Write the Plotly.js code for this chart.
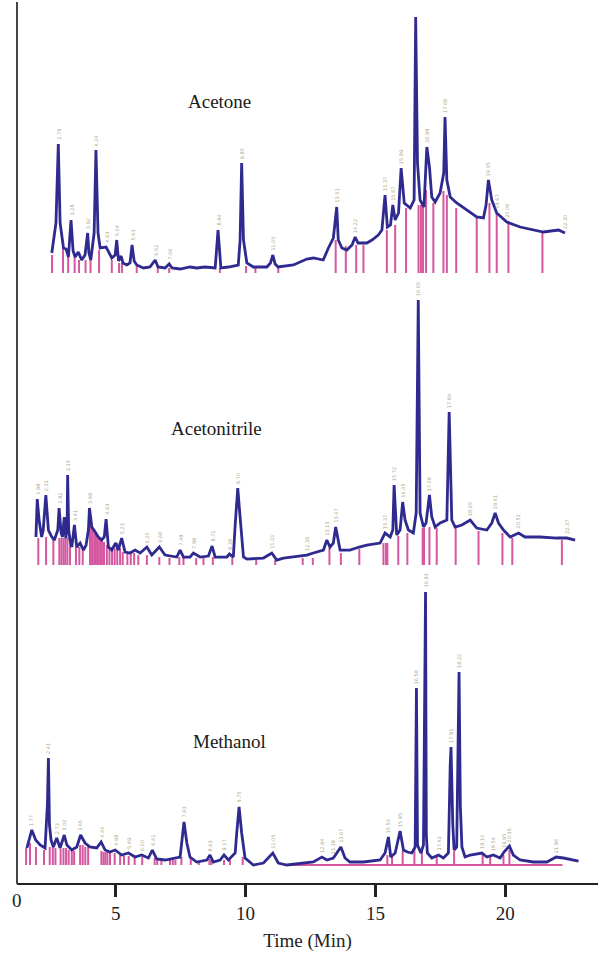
<!DOCTYPE html>
<html><head><meta charset="utf-8">
<script src="https://cdn.plot.ly/plotly-3.0.1.min.js"></script>
<style>html,body{margin:0;padding:0;background:#fff}#chart{width:598px;height:954px}</style>
</head><body><div id="chart"></div>
<script>
// ---------- Data (retention time in min, relative intensity) ----------
const xTickVals = [5, 10, 15, 20];
const xTickText = ['5', '10', '15', '20'];
const panelNames = ['Acetone', 'Acetonitrile', 'Methanol'];

const acetoneTime = [2.54,2.70,2.79,2.86,2.99,3.09,3.18,3.28,3.36,3.44,3.56,3.69,3.82,3.92,3.97,4.04,4.17,4.24,4.32,4.40,4.63,4.85,4.98,5.04,5.11,5.21,5.28,5.43,5.55,5.63,5.71,5.81,6.07,6.32,6.52,6.63,6.90,7.06,7.17,7.48,7.86,8.12,8.44,8.83,8.94,9.05,9.34,9.72,9.79,9.85,9.92,10.05,10.30,10.82,10.96,11.05,11.14,11.25,11.84,12.10,12.36,12.61,12.99,13.19,13.38,13.51,13.57,13.71,13.90,14.10,14.22,14.33,14.67,14.87,15.11,15.25,15.37,15.46,15.58,15.67,15.76,15.89,15.99,16.11,16.34,16.49,16.55,16.62,16.72,16.87,16.98,17.08,17.17,17.30,17.49,17.63,17.68,17.75,17.88,18.13,18.52,18.90,19.16,19.26,19.35,19.48,19.67,20.06,20.57,21.08,21.47,22.05,22.30];
const acetoneInt = [20,50,129,50,25,24,16,53,22,16,21,13,18,40,20,13,40,123,40,25,26,15,18,33,12,17,10,8,10,28,12,8,5,6,13,6,5,9,5,4,6,5,6,5,43,5,6,8,33,110,33,10,6,6,10,18,9,6,8,11,14,15,13,25,35,66,33,25,23,28,36,30,30,33,38,43,78,46,48,68,53,60,105,70,65,73,256,110,73,66,126,106,76,71,80,100,156,93,76,70,63,56,55,68,93,73,60,51,46,43,41,43,40];
const acetonePeakTime = [2.55,2.97,3.17,3.42,3.59,3.84,4.03,4.36,4.85,5.13,5.24,5.81,6.62,7.06,9.01,10.02,10.38,11.26,13.47,13.86,14.26,14.54,15.44,15.76,16.18,16.66,16.75,16.83,16.95,17.23,17.62,17.75,18.11,18.90,19.39,19.67,20.12,21.43];
const acetonePeakInt = [18,25,20,20,13,13,13,23,13,10,10,7,5,5,5,7,5,5,33,27,28,28,43,48,65,68,68,68,83,70,82,78,65,55,70,60,52,42];
const acetoneLabelTime = [2.79,3.28,3.92,4.24,4.63,5.04,5.63,6.52,7.06,8.94,9.85,11.05,13.51,14.22,15.37,15.67,15.99,16.98,17.68,19.35,19.67,20.06,22.30];
const acetoneLabelInt = [129,53,40,123,26,33,28,13,9,43,110,18,66,36,78,68,105,126,156,93,60,51,40];

const acetonitrileTime = [1.93,1.98,2.05,2.15,2.21,2.31,2.41,2.54,2.64,2.77,2.82,2.90,2.95,3.02,3.08,3.13,3.15,3.19,3.24,3.31,3.41,3.50,3.63,3.76,3.86,3.95,3.99,4.08,4.21,4.33,4.46,4.56,4.63,4.72,4.85,5.00,5.10,5.23,5.36,5.55,5.75,5.94,6.20,6.39,6.68,6.90,7.35,7.48,7.61,7.86,7.99,8.25,8.57,8.71,8.83,9.28,9.38,9.53,9.60,9.70,9.79,9.92,10.05,10.69,11.01,11.20,11.46,11.97,12.36,12.61,13.00,13.13,13.25,13.38,13.47,13.64,14.02,14.38,14.67,15.18,15.37,15.57,15.67,15.72,15.82,15.95,16.05,16.14,16.27,16.46,16.57,16.65,16.72,16.85,16.95,17.08,17.17,17.30,17.49,17.75,17.84,17.94,18.07,18.33,18.65,18.90,19.29,19.48,19.61,19.74,19.93,20.19,20.51,20.76,21.34,21.98,22.37,22.69];
const acetonitrileInt = [28,66,45,28,35,70,35,28,25,35,57,32,28,48,27,40,90,35,25,18,40,18,22,15,20,35,57,38,33,28,25,28,46,18,15,22,15,27,13,12,15,12,18,10,18,10,8,15,8,8,12,8,9,19,8,8,11,8,40,77,48,8,6,7,12,5,7,9,10,12,15,25,18,22,38,15,15,18,20,22,32,28,35,80,30,35,63,45,35,32,52,265,52,38,42,70,48,38,42,45,153,45,38,40,45,37,35,42,52,42,35,28,32,28,28,27,27,25];
const acetonitrilePeakTime = [2.02,2.32,2.60,2.83,2.91,2.99,3.06,3.14,3.24,3.47,3.60,3.73,4.01,4.09,4.17,4.24,4.32,4.40,4.47,4.55,4.66,4.76,4.86,4.96,5.06,5.17,5.27,5.45,5.58,5.71,5.87,6.20,6.68,7.07,7.45,7.61,8.10,8.38,8.74,9.49,10.41,11.14,12.20,12.59,13.23,13.67,14.38,15.31,15.41,15.46,15.88,16.23,16.82,16.87,17.08,17.36,18.09,18.97,19.89,20.27,22.18];
const acetonitrilePeakInt = [27,28,25,27,27,27,27,27,22,18,18,15,40,37,35,32,28,27,25,23,20,18,18,17,22,17,13,12,12,12,10,10,8,7,8,8,7,7,8,7,5,5,7,7,17,12,16,22,22,22,29,32,37,37,38,37,38,34,32,27,25];
const acetonitrileLabelTime = [1.98,2.31,2.82,3.15,3.41,3.99,4.63,5.23,6.20,6.68,7.48,7.99,8.71,9.38,9.70,11.01,12.36,13.13,13.47,15.37,15.72,16.05,16.65,17.08,17.84,18.65,19.61,20.51,22.37];
const acetonitrileLabelInt = [66,70,57,90,40,57,46,27,18,18,15,12,19,11,77,12,10,25,38,32,80,63,265,70,153,45,52,32,27];

const methanolTime = [1.58,1.77,1.92,2.09,2.28,2.37,2.41,2.45,2.51,2.60,2.73,2.86,3.02,3.12,3.31,3.50,3.65,3.82,4.01,4.27,4.44,4.59,4.78,4.98,5.23,5.49,5.75,6.00,6.26,6.41,6.58,6.90,7.48,7.54,7.63,7.74,7.86,8.12,8.51,8.63,8.76,9.02,9.17,9.34,9.60,9.66,9.75,9.85,9.98,10.30,10.69,11.05,11.26,11.59,12.36,12.61,12.94,13.13,13.38,13.67,13.83,14.02,14.54,15.18,15.37,15.50,15.59,15.76,15.95,16.08,16.23,16.40,16.53,16.55,16.58,16.62,16.75,16.85,16.90,16.93,16.96,17.00,17.17,17.43,17.62,17.81,17.88,17.91,17.98,18.03,18.13,18.18,18.22,18.27,18.33,18.45,18.65,19.10,19.29,19.54,19.80,19.95,20.16,20.31,20.57,21.08,21.60,21.96,22.24,22.82];
const methanolInt = [17,35,25,20,17,60,107,40,25,18,27,17,30,20,15,18,30,22,18,17,23,15,13,15,10,12,8,10,7,15,6,5,8,22,43,22,8,3,5,10,3,5,10,5,12,32,58,32,7,0,2,12,2,0,2,3,8,5,7,18,7,3,3,5,12,28,8,12,34,15,13,12,18,152,177,20,12,20,230,273,30,12,7,10,7,12,100,118,40,15,18,160,193,58,18,8,10,12,8,10,7,13,19,10,5,3,3,8,7,4];
const methanolPeakTime = [1.55,1.70,1.93,2.24,2.46,2.58,2.68,2.88,2.99,3.09,3.19,3.31,3.40,3.63,3.73,3.83,3.94,4.45,4.53,4.60,4.68,4.78,4.96,5.17,5.32,5.50,5.73,6.02,6.50,6.60,6.76,7.09,7.20,7.30,7.53,7.89,8.20,8.61,8.68,9.17,9.40,9.89,15.46,15.64,16.05,16.50,16.79,17.36,18.03,19.13,19.42,19.93,20.16];
const methanolPeakInt = [17,22,18,15,18,18,17,16,17,17,15,14,14,20,20,18,18,14,13,13,13,12,12,10,9,9,8,8,7,7,5,5,5,5,8,7,4,6,6,5,5,8,10,10,14,16,15,8,14,12,8,10,15];
const methanolBaseTime = [11.52, 22.20];
const methanolBaseInt = [0, 0];
const methanolLabelTime = [1.77,2.41,2.73,3.02,3.65,4.44,4.98,5.49,6.00,6.41,7.63,8.63,9.17,9.75,11.05,12.94,13.38,13.67,15.50,15.95,16.58,16.93,17.43,17.91,18.22,19.10,19.54,19.95,20.16,21.96];
const methanolLabelInt = [35,107,27,30,30,23,15,12,10,15,43,10,10,58,12,8,7,18,28,34,177,273,10,118,193,12,10,13,19,8];

// ---------- Build ----------
const BLUE = '#2e2a8f', PINK = '#d4579f', SERIF = '"Liberation Serif", "Times New Roman", serif';
const panels = [
  {ax: 'y',  t: acetoneTime, v: acetoneInt, pt: acetonePeakTime, pv: acetonePeakInt, lt: acetoneLabelTime, lv: acetoneLabelInt},
  {ax: 'y2', t: acetonitrileTime, v: acetonitrileInt, pt: acetonitrilePeakTime, pv: acetonitrilePeakInt, lt: acetonitrileLabelTime, lv: acetonitrileLabelInt},
  {ax: 'y3', t: methanolTime, v: methanolInt, pt: methanolPeakTime, pv: methanolPeakInt, lt: methanolLabelTime, lv: methanolLabelInt}
];
const traces = [];
const annotations = [];
panels.forEach(p => {
  const sx = [], sy = [];
  p.pt.forEach((t, i) => { sx.push(t, t, null); sy.push(0, p.pv[i], null); });
  traces.push({x: sx, y: sy, yaxis: p.ax, mode: 'lines', line: {color: PINK, width: 2}, hoverinfo: 'skip', showlegend: false});
  p.lt.forEach((t, i) => annotations.push({
    x: t, y: p.lv[i] + 2, xref: 'x', yref: p.ax, text: t.toFixed(2), textangle: -90,
    showarrow: false, xanchor: 'center', yanchor: 'bottom',
    font: {family: 'DejaVu Sans', size: 5, color: 'rgba(150,145,105,0.85)'}
  }));
});
traces.push({x: methanolBaseTime, y: methanolBaseInt, yaxis: 'y3', mode: 'lines', line: {color: PINK, width: 2}, hoverinfo: 'skip', showlegend: false});
panels.forEach(p => {
  traces.push({x: p.t, y: p.v, yaxis: p.ax, mode: 'lines', line: {color: BLUE, width: 2.8}, showlegend: false});
});

// panel names
const namePos = [[0.348, 0.887], [0.344, 0.517], [0.365, 0.161]];
panelNames.forEach((n, i) => annotations.push({
  text: n, xref: 'paper', yref: 'paper', x: namePos[i][0], y: namePos[i][1],
  showarrow: false, xanchor: 'center', yanchor: 'middle',
  font: {family: SERIF, size: 19, color: '#1a1a1a'}
}));
// origin label
annotations.push({text: '0', xref: 'paper', yref: 'paper', x: 0, y: -0.019, showarrow: false,
  xanchor: 'center', yanchor: 'middle', font: {family: SERIF, size: 19, color: '#222'}});

const yBase = {visible: false, showgrid: false, zeroline: false, fixedrange: true, anchor: 'x'};
const layout = {
  width: 598, height: 954,
  margin: {l: 17, r: 0, t: 2, b: 70},
  paper_bgcolor: '#fff', plot_bgcolor: '#fff',
  showlegend: false,
  xaxis: {
    range: [1.2, 23.57], anchor: 'free', position: 0,
    tickvals: xTickVals, ticktext: xTickText,
    ticks: 'outside', ticklen: 12, tickwidth: 3, tickcolor: '#222',
    showline: true, linecolor: '#222', linewidth: 2,
    showgrid: false, zeroline: false,
    tickfont: {family: SERIF, size: 19, color: '#222'},
    title: {text: 'Time (Min)', font: {family: SERIF, size: 19, color: '#222'}, standoff: 10}
  },
  yaxis:  Object.assign({domain: [0.6814, 1.0], range: [-10, 271]}, yBase),
  yaxis2: Object.assign({domain: [0.3503, 0.6735], range: [-10, 275]}, yBase),
  yaxis3: Object.assign({domain: [0.0102, 0.3447], range: [-10, 285]}, yBase),
  shapes: [{type: 'line', xref: 'paper', yref: 'paper', x0: 0, x1: 0, y0: 0, y1: 1,
            line: {color: '#444', width: 2}}],
  annotations: annotations
};
Plotly.newPlot('chart', traces, layout, {displayModeBar: false, staticPlot: true});
</script>
</body></html>
